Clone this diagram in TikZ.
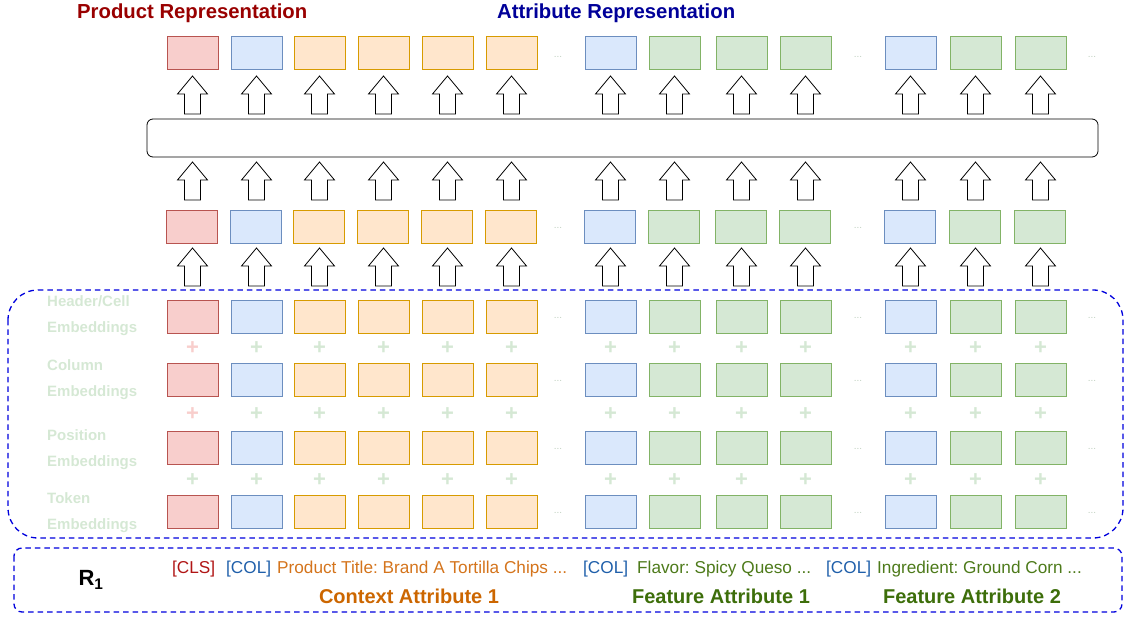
\documentclass[tikz,border=0pt]{standalone}
\usepackage{fontspec}
\setmainfont{Liberation Sans}
\usetikzlibrary{calc}
\frenchspacing

\definecolor{redfill}{HTML}{F8CECC}
\definecolor{redline}{HTML}{B85450}
\definecolor{bluefill}{HTML}{DAE8FC}
\definecolor{blueline}{HTML}{6C8EBF}
\definecolor{orangefill}{HTML}{FFE6CC}
\definecolor{orangeline}{HTML}{D79B00}
\definecolor{greenfill}{HTML}{D5E8D4}
\definecolor{greenline}{HTML}{82B366}
\definecolor{dashblue}{HTML}{0000DD}
\definecolor{prodred}{HTML}{990000}
\definecolor{attrblue}{HTML}{000099}
\definecolor{clsred}{HTML}{B01515}
\definecolor{colblue}{HTML}{1F5FAA}
\definecolor{ctxorange}{HTML}{D4741C}
\definecolor{ctxbold}{HTML}{CC6600}
\definecolor{featgreen}{HTML}{4D7A1A}
\definecolor{featbold}{HTML}{3D6E0A}
\definecolor{dotgray}{HTML}{C0D0C0}

\begin{document}
\begin{tikzpicture}[x=1pt,y=-1pt,
    cell/.style={draw,line width=0.8pt,minimum width=51,minimum height=33,inner sep=0pt},
    cellred/.style={cell,draw=redline,fill=redfill},
    cellblue/.style={cell,draw=blueline,fill=bluefill},
    cellorange/.style={cell,draw=orangeline,fill=orangefill},
    cellgreen/.style={cell,draw=greenline,fill=greenfill},
    plus/.style={font=\fontsize{22}{22}\selectfont\bfseries,text=greenfill,inner sep=0pt},
    dots/.style={font=\fontsize{10}{10}\selectfont,text=dotgray,inner sep=0pt},
    emblabel/.style={font=\fontsize{15}{15}\selectfont\bfseries,text=greenfill,anchor=west,inner sep=0pt},
    region/.style={draw=dashblue,line width=1.3pt,dash pattern=on 5.5pt off 4pt},
    tok/.style={font=\fontsize{17.2}{17}\selectfont,anchor=base west,inner sep=0pt},
    attr/.style={font=\fontsize{20}{20}\selectfont\bfseries,anchor=base,inner sep=0pt},
    uparrow/.pic={\draw[line width=0.8pt,fill=white] (-8,0) -- (-8,-20) -- (-15,-20) -- (0,-38) -- (15,-20) -- (8,-20) -- (8,0) -- cycle;}]
    \useasboundingbox (0,0) rectangle (1125,617);

    % --- titles ---
    \node[anchor=west,inner sep=0pt,font=\fontsize{20.3}{20}\selectfont\bfseries,text=prodred] (prodrep) at (77,13) {Product Representation};
    \node[anchor=west,inner sep=0pt,font=\fontsize{20.3}{20}\selectfont\bfseries,text=attrblue] (attrrep) at (497,13) {Attribute Representation};

    % --- encoder ---
    \node[draw,rounded corners=6,line width=0.8pt,minimum width=951,minimum height=38] (encoder) at (622.5,138) {};

    % --- regions ---
    \draw[region,rounded corners=30] (8,290) rectangle (1123,538);
    \draw[region,rounded corners=8] (14,548) rectangle (1122,612);

    % --- columns: outputs, inputs, embeddings ---
    \foreach \x/\c [count=\i] in {167/red,231/blue,294/orange,358/orange,422/orange,486/orange,
        585/blue,649/green,716/green,780/green,885/blue,950/green,1015/green}{
      \node[cell\c] (o\i) at (\x+25.5,52.5) {};
      \node[cell\c] (h\i) at (\x+25,226.5) {};
      \node[cell\c] (hc\i) at (\x+25.5,316.5) {};
      \node[cell\c] (col\i) at (\x+25.5,380) {};
      \node[cell\c] (pos\i) at (\x+25.5,448) {};
      \node[cell\c] (tk\i) at (\x+25.5,512) {};
      \pic at (\x+25.5,114) {uparrow};
      \pic at (\x+25.5,200) {uparrow};
      \pic at (\x+25.5,286) {uparrow};
    }

    % --- plus signs ---
    \node[plus,text=redfill] (pa1) at (hc1.south |- 0,348) {+};
    \node[plus,text=redfill] (pb1) at (col1.south |- 0,414) {+};
    \node[plus] (pc1) at (pos1.south |- 0,480) {+};
    \foreach \i in {2,...,13}{
      \node[plus] (pa\i) at (hc\i.south |- 0,348) {+};
      \node[plus] (pb\i) at (col\i.south |- 0,414) {+};
      \node[plus] (pc\i) at (pos\i.south |- 0,480) {+};
    }

    % --- dots ---
    \foreach \y [count=\j] in {57,228,318,381,449,513}{
      \node[dots] (da\j) at (558,\y) {...};
      \node[dots] (db\j) at (858,\y) {...};
    }
    \foreach \y [count=\j] in {57,318,381,449,513}{
      \node[dots] (dc\j) at (1092,\y) {...};
    }

    % --- embedding labels ---
    \node[emblabel] (lhc) at (47,301) {Header/Cell};
    \node[emblabel] (lhce) at (47,329) {Embeddings};
    \node[emblabel] (lcol) at (47,365) {Column};
    \node[emblabel] (lcole) at (47,393) {Embeddings};
    \node[emblabel] (lpos) at (47,435) {Position};
    \node[emblabel] (lpose) at (47,463) {Embeddings};
    \node[emblabel] (ltk) at (47,498) {Token};
    \node[emblabel] (ltke) at (47,526) {Embeddings};

    % --- input row R1 ---
    \node[inner sep=0pt,font=\fontsize{22}{22}\selectfont\bfseries] (rone) at (91,580) {R\textsubscript{1}};
    \node[tok,text=clsred] (cls) at (172,573) {[CLS]};
    \node[tok,text=colblue] (colA) at (226,573) {[COL]};
    \node[tok,text=ctxorange] (title) at (277,573) {Product Title: Brand A Tortilla Chips ...};
    \node[tok,text=colblue] (colB) at (583,573) {[COL]};
    \node[tok,text=featgreen] (flavor) at (637,573) {Flavor: Spicy Queso ...};
    \node[tok,text=colblue] (colC) at (826,573) {[COL]};
    \node[tok,text=featgreen] (ingr) at (877,573) {Ingredient: Ground Corn ...};
    \node[attr,text=ctxbold] (ctx) at (409,603) {Context Attribute 1};
    \node[attr,text=featbold] (feat1) at (721,603) {Feature Attribute 1};
    \node[attr,text=featbold] (feat2) at (972,603) {Feature Attribute 2};
\end{tikzpicture}
\end{document}
